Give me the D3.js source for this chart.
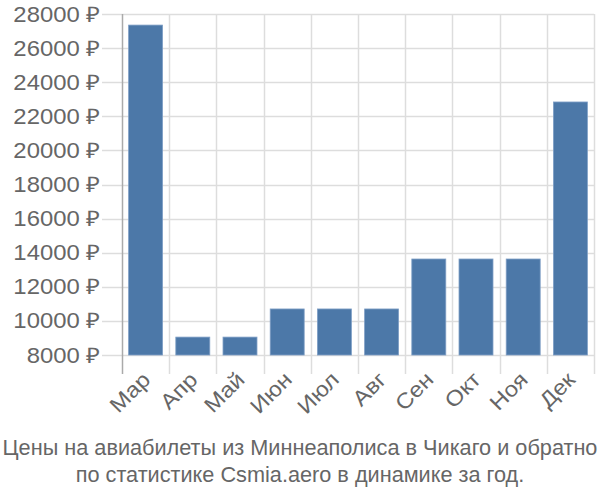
<!DOCTYPE html>
<html>
<head>
<meta charset="utf-8">
<script src="https://cdn.jsdelivr.net/npm/d3@7"></script>
<style>
  body { margin: 0; background: #fff; }
  text { font-family: "Liberation Sans", Arial, sans-serif; fill: #666; }
</style>
</head>
<body>
<svg id="chart" width="600" height="500"></svg>
<script>
// месяцы и цены (руб.)
var months = ["Мар", "Апр", "Май", "Июн", "Июл", "Авг", "Сен", "Окт", "Ноя", "Дек"];
var prices = [27350, 9050, 9050, 10700, 10700, 10700, 13630, 13630, 13630, 22840];
var yTicks = [8000, 10000, 12000, 14000, 16000, 18000, 20000, 22000, 24000, 26000, 28000];
var titleLines = ["Цены на авиабилеты из Миннеаполиса в Чикаго и обратно",
                  "по статистике Csmia.aero в динамике за год."];

var margin = {top: 14, right: 6, bottom: 145, left: 122};
var width = 600 - margin.left - margin.right,
    height = 500 - margin.top - margin.bottom;

var svg = d3.select("#chart");
var g = svg.append("g").attr("transform", "translate(" + margin.left + "," + margin.top + ")");

var x = d3.scaleBand().domain(months).range([0, width]).paddingInner(0.28).paddingOuter(0.14);
var y = d3.scaleLinear().domain([8000, 28000]).range([height, 0]);

// horizontal grid
g.append("g")
    .selectAll("line")
    .data(yTicks)
    .join("line")
    .attr("x1", -20).attr("x2", width)
    .attr("y1", d => Math.round(y(d)) + 0.5).attr("y2", d => Math.round(y(d)) + 0.5)
    .attr("stroke", "#ddd").attr("stroke-width", 1.5);

// vertical grid (band edges)
var edges = months.map(m => x(m) - x.step() * x.paddingInner() / 2);
edges.push(width);
g.append("g")
    .selectAll("line")
    .data(edges)
    .join("line")
    .attr("x1", d => Math.round(d) + 0.5).attr("x2", d => Math.round(d) + 0.5)
    .attr("y1", 0).attr("y2", height + 19)
    .attr("stroke", (d, i) => i == 0 ? "#aaa" : "#ddd").attr("stroke-width", 1.5);

// bars
g.append("g")
    .selectAll("rect")
    .data(prices)
    .join("rect")
    .attr("x", (d, i) => x(months[i]))
    .attr("width", x.bandwidth())
    .attr("y", d => y(d))
    .attr("height", d => y(8000) - y(d))
    .attr("fill", "#4c78a8")
    .attr("stroke", "#7f9fc6").attr("stroke-width", 0.8);

// y labels (a bit wider glyphs than the title)
g.append("g")
    .selectAll("text")
    .data(yTicks)
    .join("text")
    .attr("transform", d => "translate(-22," + y(d) + ") scale(1.11,1)")
    .attr("dy", "0.35em")
    .attr("text-anchor", "end")
    .attr("font-size", 21.5)
    .text(d => d + " ₽");

// x labels
g.append("g")
    .selectAll("text")
    .data(months)
    .join("text")
    .attr("transform", d => "translate(" + (x(d) + x.bandwidth() / 2 + 6) + "," + (height + 26) + ") rotate(-45) scale(1.11,1)")
    .attr("text-anchor", "end")
    .attr("font-size", 21.5)
    .text(d => d);

// title
svg.append("g")
    .selectAll("text")
    .data(titleLines)
    .join("text")
    .attr("x", 300)
    .attr("y", (d, i) => 455 + i * 27)
    .attr("text-anchor", "middle")
    .attr("font-size", 21.7)
    .text(d => d);
</script>
</body>
</html>
